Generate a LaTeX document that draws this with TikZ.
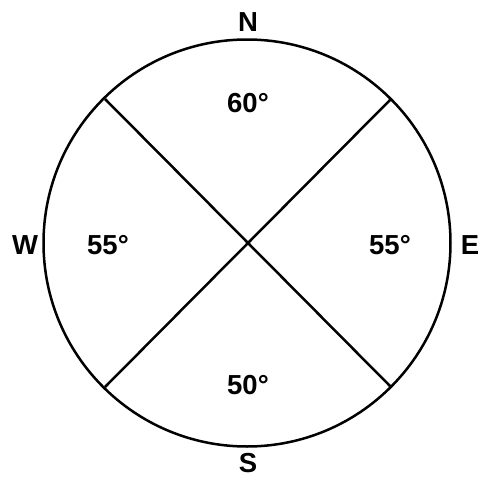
\documentclass[tikz,border=0pt]{standalone}
\usepackage{fontspec}
\setmainfont{Liberation Sans}
\begin{document}
\begin{tikzpicture}[x=1pt,y=-1pt,
  lbl/.style={font=\bfseries\fontsize{27.5}{28}\selectfont, inner sep=0pt},
  ln/.style={line width=2.5pt}]
\useasboundingbox (0,0) rectangle (480,477);
\coordinate (O) at (247,243);
\coordinate (NW) at (105,99);
\coordinate (NE) at (391,99);
\coordinate (SW) at (105,387);
\coordinate (SE) at (391,387);
\draw[ln] (O) circle (203.5);
\draw[ln] (NW) -- (SE);
\draw[ln] (NE) -- (SW);
\node[lbl] (n) at (248,22) {N};
\node[lbl] (s) at (248,463) {S};
\node[lbl] (w) at (25,245) {W};
\node[lbl] (e) at (470,245) {E};
\node[lbl] (top) at (248,103) {60°};
\node[lbl] (bot) at (248,385) {50°};
\node[lbl] (lft) at (108,245) {55°};
\node[lbl] (rgt) at (390,245) {55°};
\end{tikzpicture}
\end{document}
